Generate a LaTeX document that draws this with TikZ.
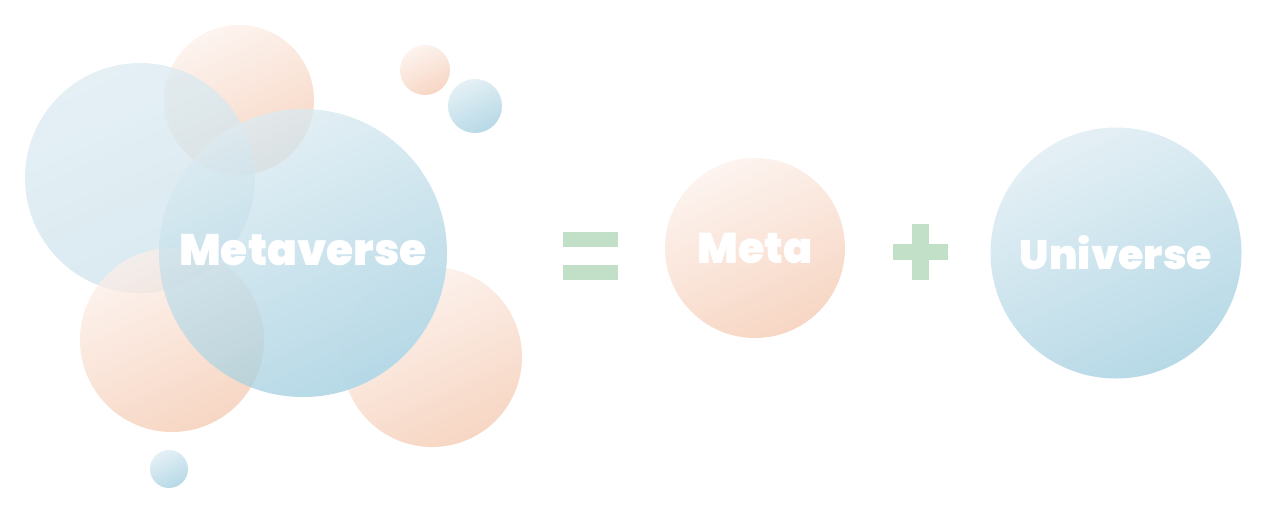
\documentclass[tikz,border=0pt]{standalone}
\usepackage{fontspec}
\setmainfont{Poppins}
\newfontfamily\heavyfont{Poppins Black}
\begin{document}
\begin{tikzpicture}[x=1pt,y=-1pt]
\definecolor{peachA}{HTML}{FCF0EA}
\definecolor{peachB}{HTML}{F4C8AF}
\definecolor{blueA}{HTML}{DCEBF2}
\definecolor{blueB}{HTML}{9ECCDE}
\definecolor{paleB}{HTML}{CCE2EB}
\definecolor{signgreen}{HTML}{C2DFC8}
\tikzset{
  bubble/.style={circle, inner sep=0pt, minimum size=#1, fill opacity=0.75, draw=none},
  peach/.style={top color=peachA, bottom color=peachB, shading angle=25},
  blue/.style={top color=blueA, bottom color=blueB, shading angle=25},
  paleblue/.style={top color=blueA, bottom color=paleB, shading angle=25},
  word/.style={text=white},
  sign/.style={fill=signgreen, draw=none, inner sep=0pt},
}
\useasboundingbox (0,0) rectangle (1280,517);
% cluster
\node[bubble=180pt, peach] (pbr) at (432,357) {};
\begin{scope}
  \clip (pbr.center) circle (90pt);
  \fill[white] (303,253) circle (144pt);
\end{scope}
\node[bubble=150pt, peach] (ptop) at (239,100) {};
\node[bubble=230pt, paleblue] (bleft) at (140,178) {};
\node[bubble=184pt, peach] (pbl) at (172,340) {};
\node[bubble=288pt, blue] (bbig) at (303,253) {};
\node[bubble=50pt, peach] (psm) at (425,70) {};
\node[bubble=54pt, blue] (bsm) at (475,106) {};
\node[bubble=38pt, blue] (bsm2) at (169,469) {};
\node[word, font=\heavyfont\fontsize{44}{44}\selectfont] (tmeta) at (303,250) {Metaverse};
% equal sign
\node[sign, minimum width=55pt, minimum height=15pt] (eq1) at (590.5,239.5) {};
\node[sign, minimum width=55pt, minimum height=15pt] (eq2) at (590.5,272.5) {};
% meta
\node[bubble=180pt, peach] (cmeta) at (755,248) {};
\node[word, font=\heavyfont\fontsize{43}{43}\selectfont] (tm) at (cmeta) {Meta};
% plus
\node[sign, minimum width=55pt, minimum height=16pt] (plh) at (920.5,252) {};
\node[sign, minimum width=17pt, minimum height=56pt] (plv) at (920.5,252) {};
% universe
\node[bubble=251pt, blue] (cuni) at (1116,253) {};
\node[word, font=\heavyfont\fontsize{41}{41}\selectfont] (tu) at (cuni) {Universe};
\end{tikzpicture}
\end{document}
